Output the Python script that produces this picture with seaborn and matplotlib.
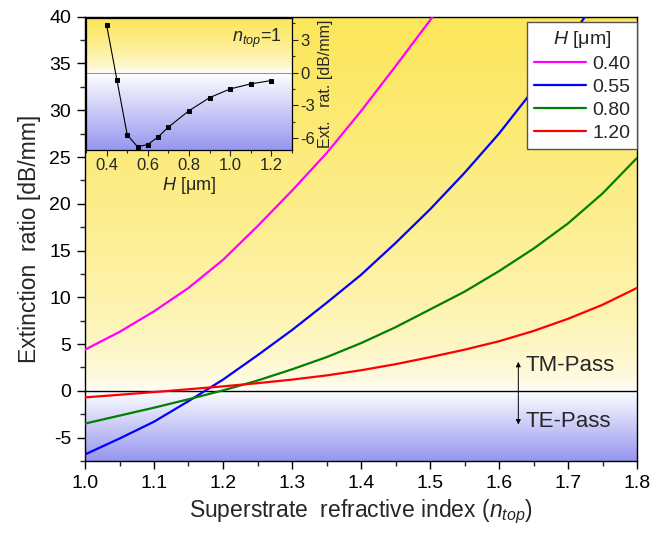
import numpy as np
import pandas as pd
import matplotlib
matplotlib.use("Agg")
import matplotlib.pyplot as plt
from matplotlib.ticker import MultipleLocator
import seaborn as sns

# ---------------- data ----------------
n_top = [1.00, 1.05, 1.10, 1.15, 1.20, 1.25, 1.30, 1.35, 1.40, 1.45,
         1.50, 1.55, 1.60, 1.65, 1.70, 1.75, 1.80]
er_h040 = [4.4, 6.3, 8.5, 11.0, 14.0, 17.6, 21.4, 25.4, 29.9, 34.7,
           39.6, 44.8]
er_h055 = [-6.8, -5.1, -3.3, -1.1, 1.2, 3.8, 6.5, 9.4, 12.4, 15.8,
           19.4, 23.3, 27.5, 32.2, 37.3, 42.8]
er_h080 = [-3.5, -2.65, -1.8, -0.9, 0.05, 1.1, 2.3, 3.6, 5.1, 6.8,
           8.7, 10.6, 12.8, 15.2, 17.9, 21.1, 24.9]
er_h120 = [-0.7, -0.42, -0.13, 0.17, 0.48, 0.82, 1.2, 1.65, 2.2, 2.85,
           3.6, 4.4, 5.3, 6.4, 7.7, 9.2, 11.0]
series_labels = ["0.40", "0.55", "0.80", "1.20"]
series_colors = ["#FF00FF", "#0000FF", "#008000", "#FF0000"]

inset_H = [0.40, 0.45, 0.50, 0.55, 0.60, 0.65, 0.70, 0.80, 0.90, 1.00, 1.10, 1.20]
inset_er = [4.37, -0.67, -5.7, -6.8, -6.6, -5.9, -5.0, -3.5, -2.3, -1.5, -1.04, -0.73]

main_xticks = [1.0, 1.1, 1.2, 1.3, 1.4, 1.5, 1.6, 1.7, 1.8]
main_yticks = [-5, 0, 5, 10, 15, 20, 25, 30, 35, 40]
inset_xticks = [0.4, 0.6, 0.8, 1.0, 1.2]
inset_yticks = [-6, -3, 0, 3]

# ---------------- style ----------------
sns.set_style("ticks")
plt.rcParams["font.family"] = ["Liberation Sans", "DejaVu Sans"]
plt.rcParams["mathtext.fontset"] = "custom"
plt.rcParams["mathtext.rm"] = "Liberation Sans"
plt.rcParams["mathtext.it"] = "Liberation Sans:italic"
plt.rcParams["axes.unicode_minus"] = False
plt.rcParams["axes.linewidth"] = 1.0
plt.rcParams["axes.edgecolor"] = "black"

rows = []
for lab, vals in zip(series_labels, [er_h040, er_h055, er_h080, er_h120]):
    for x, y in zip(n_top, vals):
        rows.append({"n": x, "ER": y, "H": lab})
df = pd.DataFrame(rows)
df_in = pd.DataFrame({"H": inset_H, "ER": inset_er})

fig = plt.figure(figsize=(6.51, 5.35), dpi=100)
ax = fig.add_axes([85 / 651, 1 - 461 / 535, 552 / 651, 444.3 / 535])

YEL = np.array([252, 230, 90]) / 255.0
BLU = np.array([150, 150, 240]) / 255.0
WHT = np.array([1.0, 1.0, 1.0])


def gradient(axis, ylo, yhi, xlo, xhi, ytop_full, ybot_full, power=0.55):
    ys = np.linspace(yhi, ylo, 400)
    img = np.zeros((400, 2, 3))
    for i, v in enumerate(ys):
        if v >= 0:
            t = np.clip(v / ytop_full, 0, 1) ** power
            c = WHT * (1 - t) + YEL * t
        else:
            t = np.clip(v / ybot_full, 0, 1)
            c = WHT * (1 - t) + BLU * t
        img[i, :, :] = c
    axis.imshow(img, extent=[xlo, xhi, ylo, yhi], aspect="auto",
                zorder=0, interpolation="bilinear")


gradient(ax, -7.5, 40, 1.0, 1.8, 40, -7.5, power=0.5)

sns.lineplot(data=df, x="n", y="ER", hue="H", hue_order=series_labels,
             palette=dict(zip(series_labels, series_colors)),
             estimator=None, sort=False, linewidth=1.6, ax=ax, zorder=3)
ax.axhline(0, color="black", lw=1.0, zorder=2)

ax.set_xlim(1.0, 1.8)
ax.set_ylim(-7.5, 40)
ax.set_xticks(main_xticks)
ax.set_yticks(main_yticks)
ax.xaxis.set_minor_locator(MultipleLocator(0.05))
ax.yaxis.set_minor_locator(MultipleLocator(2.5))
ax.tick_params(which="major", direction="out", length=6, width=1, labelsize=14,
               top=False, right=False, colors="black", pad=4)
ax.tick_params(which="minor", direction="out", length=3.5, width=1,
               top=False, right=False)
for s in ax.spines.values():
    s.set_visible(True)
    s.set_color("black")
ax.set_xlabel("Superstrate  refractive index ($n_{top}$)", fontsize=16.5, labelpad=4)
ax.set_ylabel("Extinction  ratio [dB/mm]", fontsize=16.5, labelpad=6)

leg = ax.legend(title="$H$ [μm]", loc="upper right", bbox_to_anchor=(1.0, 0.988),
                borderaxespad=0.0, fontsize=14, title_fontsize=14,
                frameon=True, fancybox=False, handlelength=2.7,
                handletextpad=0.3, labelspacing=0.28, borderpad=0.35)
leg.get_frame().set_edgecolor("#555555")
leg.get_frame().set_linewidth(1.0)
leg.get_frame().set_alpha(1.0)
leg.set_zorder(5)

# TM / TE annotation
ax.annotate("", xy=(1.628, 3.1), xytext=(1.628, -3.6),
            arrowprops=dict(arrowstyle="<|-|>", lw=0.7, color="black",
                            mutation_scale=7, shrinkA=0, shrinkB=0), zorder=4)
ax.text(1.638, 2.7, "TM-Pass", fontsize=16, va="center", ha="left", zorder=4)
ax.text(1.638, -3.3, "TE-Pass", fontsize=16, va="center", ha="left", zorder=4)

# ---------------- inset ----------------
axi = fig.add_axes([86 / 651, 1 - 150 / 535, 206 / 651, 132 / 535])
gradient(axi, -7.1, 5.0, 0.3, 1.3, 5.0, -7.1, power=0.6)
axi.axhline(0, color="#999999", lw=0.8, zorder=2)
sns.lineplot(data=df_in, x="H", y="ER", color="black", lw=0.8, marker="s",
             markersize=3, markeredgecolor="black", estimator=None, sort=False,
             ax=axi, zorder=3)
axi.set_xlim(0.3, 1.3)
axi.set_ylim(-7.1, 5.0)
axi.set_xticks(inset_xticks)
axi.set_yticks(inset_yticks)
axi.xaxis.set_minor_locator(MultipleLocator(0.1))
axi.yaxis.set_minor_locator(MultipleLocator(1.5))
axi.yaxis.tick_right()
axi.yaxis.set_label_position("right")
axi.tick_params(which="major", direction="out", length=4, width=0.8, labelsize=12,
                left=False, top=False, pad=2)
axi.tick_params(which="minor", direction="out", length=2, width=0.8,
                left=False, top=False)
for s in axi.spines.values():
    s.set_color("black")
    s.set_linewidth(0.9)
axi.set_xlabel("$H$ [μm]", fontsize=13, labelpad=1)
axi.set_ylabel("Ext.   rat. [dB/mm]", fontsize=11.5, labelpad=2)
axi.text(0.95, 0.93, "$n_{top}$=1", transform=axi.transAxes, fontsize=13,
         ha="right", va="top")

fig.savefig("out.png", dpi=100)
